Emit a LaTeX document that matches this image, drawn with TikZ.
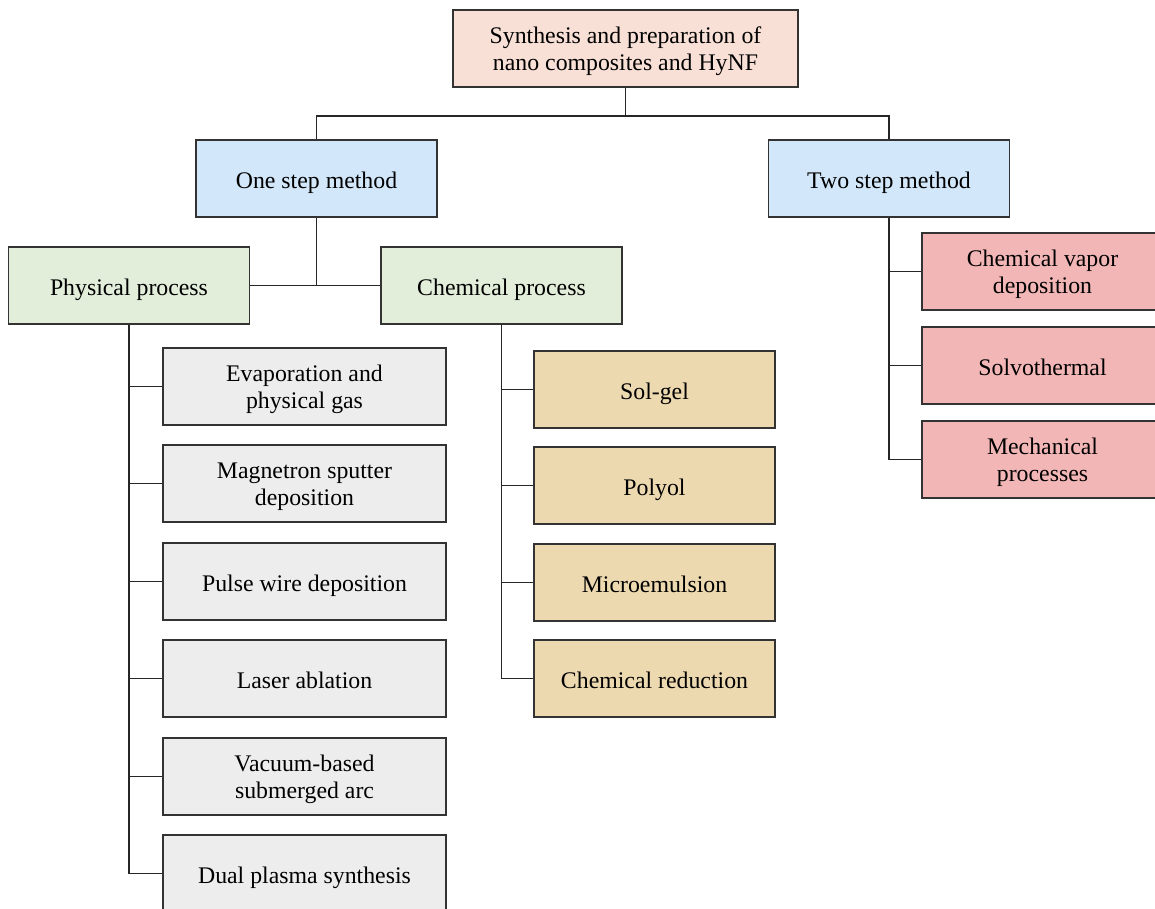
\documentclass[tikz,border=0pt]{standalone}
\usepackage{fontspec}
\setmainfont{Liberation Serif}
\definecolor{cTop}{HTML}{F8E0D6}
\definecolor{cBlue}{HTML}{D2E7F9}
\definecolor{cGreen}{HTML}{E2EDDA}
\definecolor{cGrey}{HTML}{EDEDED}
\definecolor{cTan}{HTML}{EDD9B0}
\definecolor{cPink}{HTML}{F2B6B6}
\definecolor{cBorder}{HTML}{333333}
\tikzset{
  box/.style={draw=cBorder, line width=0.6pt, rectangle, align=center,
    font=\fontsize{11.9}{13.5}\selectfont, inner sep=0pt},
  oneline/.style={text height=9.8pt, text depth=0pt},
  twoline/.style={text height=21.8pt, text depth=0pt},
  topbox/.style={box, fill=cTop, minimum width=172.5pt, minimum height=38.5pt},
  methodbox/.style={box, fill=cBlue, minimum width=120.5pt, minimum height=38.5pt},
  procbox/.style={box, fill=cGreen, minimum width=120.5pt, minimum height=38.5pt},
  greybox/.style={box, fill=cGrey, minimum width=141.5pt, minimum height=38.5pt},
  tanbox/.style={box, fill=cTan, minimum width=120.5pt, minimum height=38.5pt},
  pinkbox/.style={box, fill=cPink, minimum width=120.5pt, minimum height=38.5pt},
  conn/.style={draw=black!85, line width=0.7pt}
}
\begin{document}
\begin{tikzpicture}[x=0.5pt, y=-0.5pt]
\useasboundingbox (0,0) rectangle (1155,909);
% nodes
\node[topbox, twoline] (top) at (625.5,48.5) {Synthesis and preparation of\\nano composites and HyNF};
\node[methodbox, oneline] (one) at (316.5,178.5) {One step method};
\node[methodbox, oneline] (two) at (889,178.5) {Two step method};
\node[procbox, oneline] (phys) at (129,285.5) {Physical process};
\node[procbox, oneline] (chem) at (501.5,285.5) {Chemical process};
% physical children
\node[greybox, twoline] (evap) at (304.5,386.5) {Evaporation and\\physical gas};
\node[greybox, twoline] (magn) at (304.5,483.5) {Magnetron sputter\\deposition};
\node[greybox, oneline] (pulse) at (304.5,581.5) {Pulse wire deposition};
\node[greybox, oneline] (laser) at (304.5,678.5) {Laser ablation};
\node[greybox, twoline] (vac) at (304.5,776.5) {Vacuum-based\\submerged arc};
\node[greybox, oneline] (dual) at (304.5,873.5) {Dual plasma synthesis};
% chemical children
\node[tanbox, oneline] (sol) at (654.5,389.5) {Sol-gel};
\node[tanbox, oneline] (poly) at (654.5,485.5) {Polyol};
\node[tanbox, oneline] (micro) at (654.5,582.5) {Microemulsion};
\node[tanbox, oneline] (red) at (654.5,678.5) {Chemical reduction};
% two step children
\node[pinkbox, twoline] (cvd) at (1042.5,271.5) {Chemical vapor\\deposition};
\node[pinkbox, oneline] (solvo) at (1042.5,365.5) {Solvothermal};
\node[pinkbox, twoline] (mech) at (1042.5,459.5) {Mechanical\\processes};
% connectors
\coordinate (j1) at (625.5,116);
\draw[conn] (top.south) -- (j1);
\draw[conn] (one.north) |- (j1) -| (two.north);
\draw[conn] (one.south) -- (one.south |- phys.east);
\draw[conn] (phys.east) -- (chem.west);
\foreach \c in {evap,magn,pulse,laser,vac,dual}
  \draw[conn] (phys.south) |- (\c.west);
\foreach \c in {sol,poly,micro,red}
  \draw[conn] (chem.south) |- (\c.west);
\foreach \c in {cvd,solvo,mech}
  \draw[conn] (two.south) |- (\c.west);
\end{tikzpicture}
\end{document}
